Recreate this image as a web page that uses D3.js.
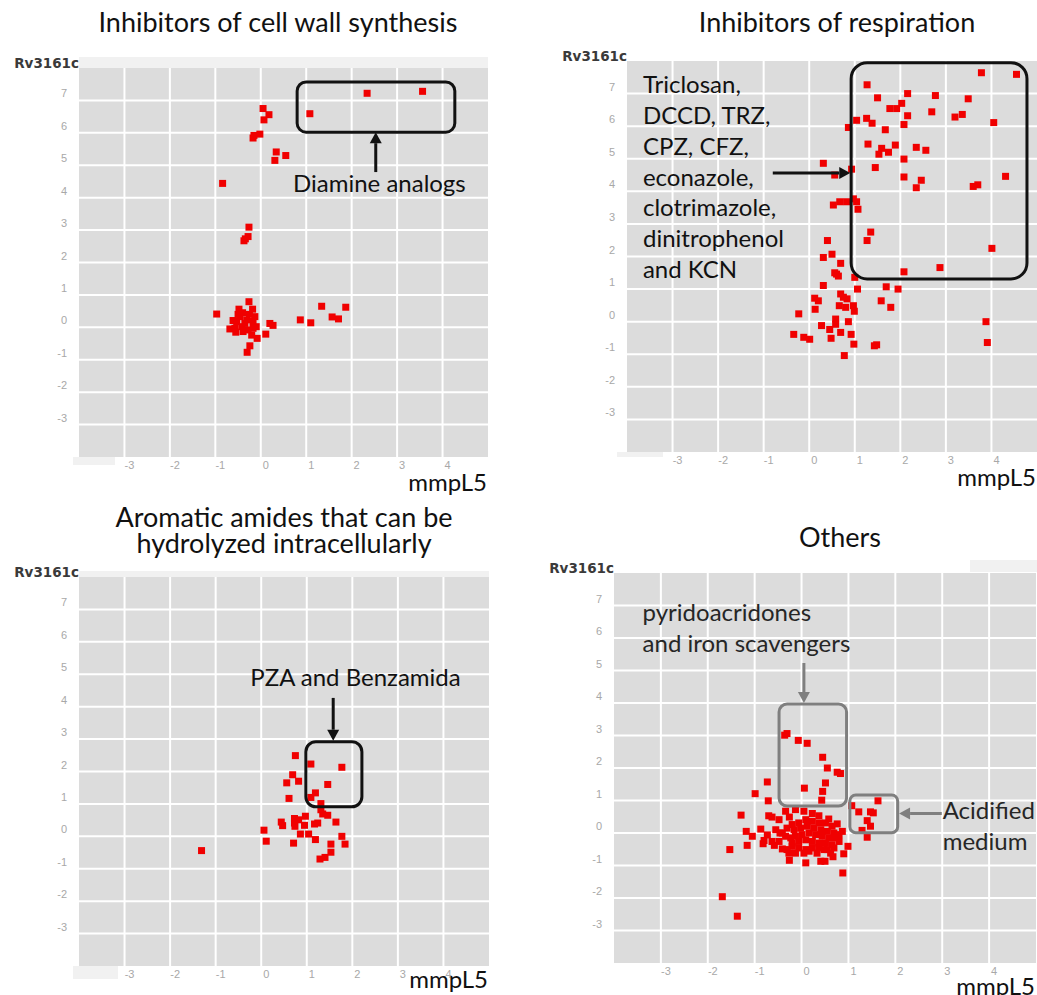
<!DOCTYPE html>
<html>
<head>
<meta charset="utf-8">
<script src="https://cdn.jsdelivr.net/npm/d3@7"></script>
<style>
  body { margin: 0; background: #fff; }
  svg { display: block; }
</style>
</head>
<body>
<svg id="chart" width="1037" height="995"></svg>
<script>
// ---- data -------------------------------------------------------------
const xTicks = [-3, -2, -1, 0, 1, 2, 3, 4];
const yTicks = [-3, -2, -1, 0, 1, 2, 3, 4, 5, 6, 7];
const xAxisTitle = "mmpL5";
const yAxisTitle = "Rv3161c";

// [mmpL5, Rv3161c] per compound
const cellWallPoints = [
  [1.08, 6.59], [2.34, 7.22], [3.56, 7.28],
  [0.05, 6.75], [0.18, 6.56], [0.07, 6.40], [-0.02, 5.96], [-0.15, 5.92], [-0.17, 5.84],
  [0.34, 5.41], [0.55, 5.30], [0.31, 5.15], [-0.84, 4.44],
  [-0.26, 3.09], [-0.28, 2.80], [-0.34, 2.73], [-0.37, 2.67],
  [-0.26, 0.79], [-0.97, 0.41], [-0.48, 0.56], [-0.18, 0.56], [-0.61, 0.21], [-0.68, -0.05],
  [-0.46, 0.33], [-0.35, 0.12], [-0.13, 0.33], [-0.10, 0.02], [-0.28, -0.08], [-0.39, -0.13],
  [-0.20, -0.24], [0.11, -0.21], [0.20, 0.12], [0.27, 0.06], [-0.08, -0.34], [-0.24, -0.57],
  [-0.30, -0.77], [-0.53, 0.18], [-0.42, 0.02], [-0.17, 0.18], [-0.31, 0.23], [-0.57, -0.03],
  [-0.17, -0.03], [-0.50, 0.40], [-0.40, 0.45], [-0.55, -0.15], [-0.25, 0.40],
  [0.87, 0.23], [1.10, 0.14], [1.34, 0.65], [1.57, 0.32], [1.71, 0.26], [1.87, 0.62]
];

const respirationPoints = [
  [3.78, 7.64], [4.55, 7.59], [1.27, 7.27], [1.50, 6.87], [2.16, 7.00], [2.77, 6.94], [3.49, 6.84],
  [1.77, 6.54], [1.92, 6.54], [2.03, 6.70], [2.69, 6.44], [2.16, 6.32], [3.20, 6.28], [3.36, 6.36],
  [4.05, 6.11], [1.04, 6.18], [1.26, 6.24], [1.38, 6.09], [0.86, 5.96], [1.67, 5.89], [2.08, 6.05],
  [1.29, 5.45], [1.59, 5.32], [1.89, 5.42], [1.53, 5.14], [1.74, 5.20], [2.35, 5.35], [2.56, 5.26],
  [2.08, 4.99], [1.45, 4.73], [0.31, 4.86], [0.93, 4.68], [0.56, 4.50], [2.08, 4.44], [2.46, 4.34],
  [2.35, 4.11], [3.60, 4.15], [3.70, 4.20], [4.31, 4.46],
  [0.53, 3.58], [0.67, 3.68], [0.82, 3.68], [0.97, 3.77], [1.04, 3.68], [1.07, 3.45],
  [1.35, 2.75], [1.27, 2.49], [0.40, 2.49], [4.01, 2.25], [2.08, 1.53], [2.87, 1.66],
  [0.31, 1.97], [0.50, 2.07], [0.69, 1.79], [0.56, 1.50], [0.64, 1.40], [0.60, 1.46], [1.00, 1.36],
  [0.31, 1.11], [1.06, 1.00], [1.69, 1.07], [1.95, 1.00],
  [0.12, 0.72], [0.20, 0.64], [0.69, 0.85], [0.75, 0.75], [0.83, 0.70], [0.13, 0.38], [0.66, 0.49],
  [0.80, 0.44], [0.97, 0.49], [0.99, 0.32], [1.58, 0.64], [1.79, 0.44],
  [-0.23, 0.24], [0.27, -0.12], [0.58, 0.08], [0.58, -0.08], [0.86, 0.00], [0.45, -0.24],
  [0.69, -0.33], [0.92, -0.39], [0.48, -0.51], [-0.34, -0.39], [-0.12, -0.48], [0.01, -0.54],
  [0.98, -0.69], [1.43, -0.74], [1.48, -0.71], [0.77, -1.04], [3.88, 0.00], [3.91, -0.64]
];

const amidePoints = [
  [-1.31, -0.44], [0.75, 2.49], [1.09, 2.23], [1.77, 2.13], [0.69, 1.90], [0.82, 1.70], [0.56, 1.65],
  [1.46, 1.60], [0.61, 1.17], [1.19, 1.34], [1.09, 1.20], [1.31, 1.01], [1.31, 0.82], [1.35, 0.69],
  [1.46, 0.65], [0.97, 0.62], [0.73, 0.55], [0.82, 0.51], [0.44, 0.44], [1.64, 0.44], [0.73, 0.41],
  [1.24, 0.41], [1.17, 0.38], [0.47, 0.33], [0.74, 0.31], [0.95, 0.34], [0.06, 0.19], [0.86, 0.07],
  [1.04, 0.07], [0.11, -0.15], [1.77, 0.00], [1.19, -0.10], [0.71, -0.21], [1.53, -0.24],
  [1.84, -0.24], [1.53, -0.49], [1.29, -0.70], [1.40, -0.65]
];

const otherPoints = [
  [-0.36, 3.01], [-0.31, 3.06], [-0.07, 2.85], [0.12, 2.76], [0.45, 2.33], [0.55, 2.00], [0.76, 1.87],
  [0.83, 1.83], [0.51, 1.54], [0.06, 1.38], [0.45, 1.28], [0.43, 1.01], [-0.73, 1.57], [-0.99, 1.21],
  [-0.71, 0.99], [-1.29, 0.55], [1.63, 0.99], [1.07, 0.84], [1.22, 0.65], [1.47, 0.65], [1.53, 0.62],
  [1.40, 0.38], [1.47, 0.21], [1.29, 0.08], [1.40, -0.13], [-1.18, 0.05], [-1.05, -0.10],
  [-1.16, -0.38], [-1.53, -0.51], [-0.87, 0.12], [-0.80, -0.23], [-0.73, -0.06], [-0.82, -0.33],
  [-0.63, -0.26], [-0.58, -0.38], [-0.70, 0.53], [-0.63, 0.49], [-0.48, 0.41], [-0.46, 0.00],
  [-0.34, 0.67], [-0.26, 0.49], [-0.41, -0.49], [-0.26, -0.84], [-0.27, -0.62], [0.09, -0.92],
  [0.41, -0.87], [0.50, -0.87], [0.67, -0.73], [0.90, -0.64], [0.99, -0.41], [0.88, -1.23],
  [-1.69, -1.96], [-1.37, -2.56],
  [-0.13, 0.72], [0.05, 0.67], [0.23, 0.60], [0.37, 0.53], [0.58, 0.43], [0.76, 0.28], [0.65, 0.21],
  [0.51, 0.31], [0.37, 0.31], [0.23, 0.36], [0.09, 0.41], [-0.06, 0.31], [-0.20, 0.26], [-0.31, 0.15],
  [-0.16, 0.10], [-0.02, 0.15], [0.12, 0.21], [0.26, 0.15], [0.41, 0.10], [0.55, 0.05], [0.69, 0.00],
  [0.80, -0.05], [0.87, 0.05], [0.72, -0.15], [0.58, -0.15], [0.44, -0.10], [0.30, -0.05], [0.16, 0.00],
  [0.01, -0.05], [-0.13, -0.10], [-0.23, -0.15], [-0.34, -0.10], [-0.20, -0.31], [-0.06, -0.26],
  [0.09, -0.21], [0.23, -0.26], [0.37, -0.31], [0.51, -0.31], [0.65, -0.36], [0.80, -0.26],
  [0.69, -0.46], [0.55, -0.51], [0.37, -0.46], [0.23, -0.46], [0.09, -0.51], [-0.06, -0.46],
  [-0.20, -0.41], [-0.31, -0.51], [-0.13, -0.62], [0.05, -0.62], [0.16, -0.56], [0.33, -0.62],
  [0.48, -0.51], [0.62, -0.62], [-0.48, -0.26], [-0.41, 0.00], [-0.55, 0.10]
];

// ---- layout -----------------------------------------------------------
const black = "#111";
const grey = "#7f7f7f";

const panels = [
  {
    title: ["Inhibitors of cell wall synthesis"], titleX: 278, titleY: [32],
    points: cellWallPoints,
    left: 79, right: 488, bottom: 457, top: 68,
    xTitleY: 491, bands: [[79, 57, 409, 11], [73, 457, 42, 8]],
    boxes: [{ x0: 0.80, x1: 4.27, y0: 6.02, y1: 7.57, r: 9, color: black }],
    arrows: [{ x1: 2.53, y1: 4.79, x2: 2.53, y2: 6.02, color: black }],
    notes: [{ x: 2.61, y: 4.17, lines: ["Diamine analogs"], anchor: "middle", color: black }]
  },
  {
    title: ["Inhibitors of respiration"], titleX: 837, titleY: [32],
    points: respirationPoints,
    left: 627, right: 1037, bottom: 452, top: 61,
    xTitleY: 486, bands: [[617, 452, 46, 5]],
    boxes: [{ x0: 0.92, x1: 4.78, y0: 1.31, y1: 7.95, r: 16, color: black }],
    arrows: [{ x1: -0.80, y1: 4.56, x2: 0.90, y2: 4.56, color: black }],
    notes: [{ x: -3.65, y: 7.01, lines: ["Triclosan,", "DCCD, TRZ,", "CPZ, CFZ,", "econazole,",
      "clotrimazole,", "dinitrophenol", "and KCN"], anchor: "start", color: black }]
  },
  {
    title: ["Aromatic amides that can be", "hydrolyzed intracellularly"], titleX: 284, titleY: [527, 553],
    points: amidePoints,
    left: 79, right: 489, bottom: 966, top: 577,
    xTitleY: 988, bands: [[79, 571, 410, 6], [73, 966, 45, 13]],
    boxes: [{ x0: 0.98, x1: 2.21, y0: 0.91, y1: 2.92, r: 10, color: black }],
    arrows: [{ x1: 1.58, y1: 4.27, x2: 1.58, y2: 2.95, color: black }],
    notes: [{ x: 2.07, y: 4.64, lines: ["PZA and Benzamida"], anchor: "middle", color: black }]
  },
  {
    title: ["Others"], titleX: 840, titleY: [547],
    points: otherPoints,
    left: 614, right: 1036, bottom: 963, top: 573,
    xTitleY: 995, bands: [[970, 560, 67, 12]],
    boxes: [
      { x0: -0.48, x1: 0.96, y0: 0.83, y1: 3.97, r: 8, color: grey },
      { x0: 1.03, x1: 2.05, y0: 0.01, y1: 1.17, r: 6, color: grey }
    ],
    arrows: [
      { x1: 0.05, y1: 5.23, x2: 0.05, y2: 4.00, color: grey },
      { x1: 2.99, y1: 0.60, x2: 2.08, y2: 0.60, color: grey }
    ],
    notes: [
      { x: -3.39, y: 6.52, lines: ["pyridoacridones", "and iron scavengers"], anchor: "start", color: "#262626" },
      { x: 3.01, y: 0.43, lines: ["Acidified", "medium"], anchor: "start", color: "#262626" }
    ]
  }
];

// ---- drawing ----------------------------------------------------------
const svg = d3.select("#chart");
const titleFont = "Lato, 'Open Sans', sans-serif";

panels.forEach(p => {
  const g = svg.append("g");
  const x = d3.scaleLinear().domain([-4, 5]).range([p.left, p.right]);
  const y = d3.scaleLinear().domain([-4, 8]).range([p.bottom, p.top]);

  // light strips around the plotting area
  p.bands.forEach(b => g.append("rect")
    .attr("x", b[0]).attr("y", b[1]).attr("width", b[2]).attr("height", b[3])
    .attr("fill", "#f1f1f1"));

  // panel background
  g.append("rect")
    .attr("x", p.left).attr("y", p.top)
    .attr("width", p.right - p.left).attr("height", p.bottom - p.top)
    .attr("fill", "#dcdcdc");

  // grid
  g.append("g").selectAll("line").data(xTicks).join("line")
    .attr("x1", d => x(d)).attr("x2", d => x(d))
    .attr("y1", p.top).attr("y2", p.bottom)
    .attr("stroke", "#fff").attr("stroke-width", 2);
  g.append("g").selectAll("line").data(yTicks).join("line")
    .attr("x1", p.left).attr("x2", p.right)
    .attr("y1", d => y(d)).attr("y2", d => y(d))
    .attr("stroke", "#fff").attr("stroke-width", 2);

  // tick labels
  g.append("g").selectAll("text").data(xTicks).join("text")
    .attr("x", d => x(d) + 5).attr("y", p.bottom + 12)
    .attr("text-anchor", "middle")
    .attr("font-family", "'Liberation Sans', Arial, sans-serif")
    .attr("font-size", 11).attr("fill", "#a8a8a8")
    .text(d => d);
  g.append("g").selectAll("text").data(yTicks).join("text")
    .attr("x", p.left - 12).attr("y", d => y(d) - 3)
    .attr("text-anchor", "end")
    .attr("font-family", "'Liberation Sans', Arial, sans-serif")
    .attr("font-size", 11).attr("fill", "#a8a8a8")
    .text(d => d);

  // axis titles
  g.append("text")
    .attr("x", p.left).attr("y", p.top)
    .attr("text-anchor", "end")
    .attr("font-family", "'DejaVu Sans', Verdana, sans-serif")
    .attr("font-weight", "bold").attr("font-size", 13.5)
    .attr("fill", "#3a3a3a")
    .text(yAxisTitle);
  g.append("text")
    .attr("x", p.right - 1).attr("y", p.xTitleY)
    .attr("text-anchor", "end")
    .attr("font-family", titleFont).attr("font-size", 24)
    .attr("fill", black)
    .text(xAxisTitle);

  // panel title
  g.append("g").selectAll("text").data(p.title).join("text")
    .attr("x", p.titleX).attr("y", (d, i) => p.titleY[i])
    .attr("text-anchor", "middle")
    .attr("font-family", titleFont).attr("font-size", 27)
    .attr("fill", black)
    .text(d => d);

  // points
  const s = 7;
  g.append("g").selectAll("rect").data(p.points).join("rect")
    .attr("x", d => x(d[0]) - s / 2).attr("y", d => y(d[1]) - s / 2)
    .attr("width", s).attr("height", s)
    .attr("fill", "#f00000");

  // annotation boxes
  p.boxes.forEach(b => g.append("rect")
    .attr("x", x(b.x0)).attr("y", y(b.y1))
    .attr("width", x(b.x1) - x(b.x0)).attr("height", y(b.y0) - y(b.y1))
    .attr("rx", b.r).attr("ry", b.r)
    .attr("fill", "none").attr("stroke", b.color).attr("stroke-width", 3));

  // arrows
  p.arrows.forEach(a => {
    const x1 = x(a.x1), y1 = y(a.y1), x2 = x(a.x2), y2 = y(a.y2);
    const ang = Math.atan2(y2 - y1, x2 - x1);
    const len = 11, half = 6;
    const bx = x2 - len * Math.cos(ang), by = y2 - len * Math.sin(ang);
    g.append("line")
      .attr("x1", x1).attr("y1", y1).attr("x2", bx).attr("y2", by)
      .attr("stroke", a.color).attr("stroke-width", 3);
    const px = -Math.sin(ang) * half, py = Math.cos(ang) * half;
    g.append("path")
      .attr("d", `M${x2},${y2}L${bx + px},${by + py}L${bx - px},${by - py}Z`)
      .attr("fill", a.color);
  });

  // annotation text
  p.notes.forEach(n => g.append("g").selectAll("text").data(n.lines).join("text")
    .attr("x", x(n.x)).attr("y", (d, i) => y(n.y) + i * 30.8)
    .attr("text-anchor", n.anchor)
    .attr("font-family", titleFont).attr("font-size", 24)
    .attr("fill", n.color)
    .text(d => d));
});
</script>
</body>
</html>
